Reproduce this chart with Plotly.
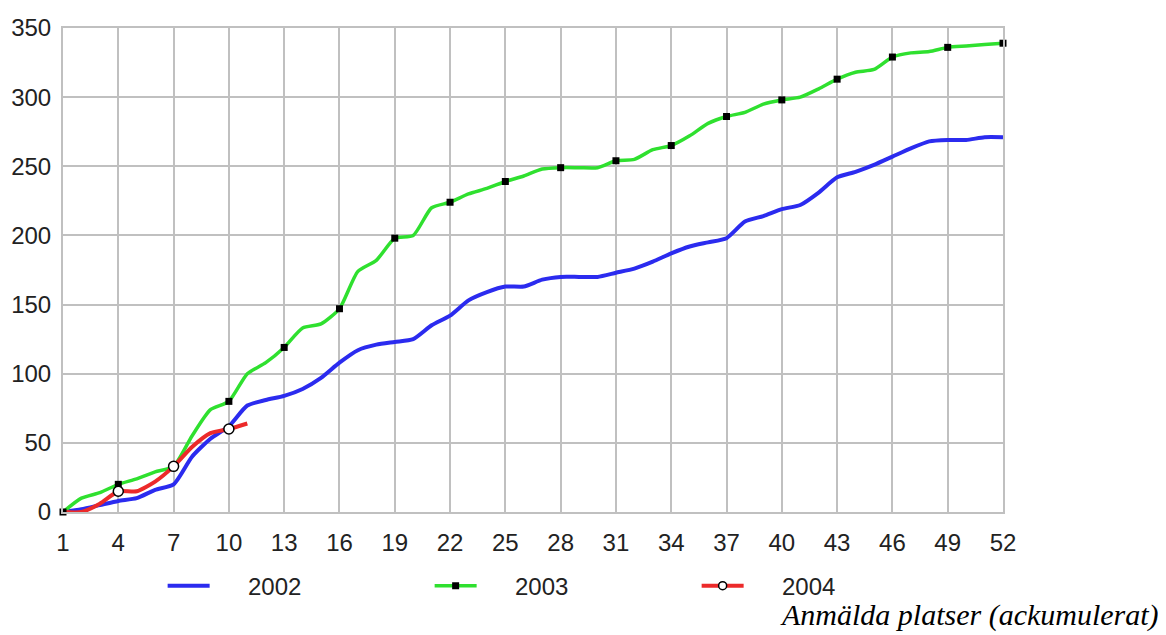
import plotly.graph_objects as go

weeks = list(range(1, 53))
tick_weeks = list(range(1, 53, 3))
y_ticks = [0, 50, 100, 150, 200, 250, 300, 350]

y2002 = [0, 2, 5, 8, 10, 16, 20, 40, 53, 62,
         77, 81, 84, 89, 97, 108, 117, 121, 123, 125,
         135, 142, 153, 159, 163, 163, 168, 170, 170, 170,
         173, 176, 181, 187, 192, 195, 198, 210, 214, 219,
         222, 231, 242, 246, 251, 257, 263, 268, 269, 269,
         271, 271]
y2003 = [0, 10, 14, 20, 24, 29, 33, 55, 74, 80,
         100, 108, 119, 133, 136, 147, 174, 182, 198, 200,
         220, 224, 230, 234, 239, 243, 248, 249, 249, 249,
         254, 255, 262, 265, 272, 281, 286, 289, 295, 298,
         300, 306, 313, 318, 320, 329, 332, 333, 336, 337,
         338, 339]
weeks2004 = list(range(1, 12))
y2004 = [0, 0, 6, 15, 15, 22, 33, 47, 57, 60, 64]
marker_weeks_2004 = [4, 7, 10]

names = ["2002", "2003", "2004"]
caption = "Anmälda platser (ackumulerat)"
blue = "#2b2bef"
green = "#2fe02f"
red = "#ec2a2a"

fig = go.Figure()
common = dict(mode="lines", line_shape="spline", showlegend=False, cliponaxis=False, hoverinfo="x+y")

fig.add_trace(go.Scatter(x=weeks, y=y2002, line=dict(color=blue, width=4, smoothing=0.6), **common))
fig.add_trace(go.Scatter(x=weeks, y=y2003, line=dict(color=green, width=3.5, smoothing=0.6), **common))
fig.add_trace(go.Scatter(x=weeks2004, y=y2004, line=dict(color=red, width=4, smoothing=0.6), **common))

m03x = tick_weeks
m03y = [y2003[w - 1] for w in m03x]
fig.add_trace(go.Scatter(x=m03x, y=m03y, mode="markers", showlegend=False, cliponaxis=False,
                         marker=dict(symbol="square", size=7, color="black")))
m04y = [y2004[w - 1] for w in marker_weeks_2004]
fig.add_trace(go.Scatter(x=marker_weeks_2004, y=m04y, mode="markers", showlegend=False, cliponaxis=False,
                         marker=dict(symbol="circle", size=10, color="white", line=dict(color="black", width=1.5))))

pad = "\u00a0" * 5
# legend entries
fig.add_trace(go.Scatter(x=[None], y=[None], mode="lines", name=pad + names[0],
                         line=dict(color=blue, width=4)))
fig.add_trace(go.Scatter(x=[None], y=[None], mode="lines+markers", name=pad + names[1],
                         line=dict(color=green, width=3.5),
                         marker=dict(symbol="square", size=7, color="black")))
fig.add_trace(go.Scatter(x=[None], y=[None], mode="lines+markers", name=pad + names[2],
                         line=dict(color=red, width=4),
                         marker=dict(symbol="circle", size=8, color="white", line=dict(color="black", width=1.5))))

grid = "#c0c0c0"
tickfont = dict(family="Liberation Sans, Arial", size=24, color="#222")
fig.update_layout(
    width=1158, height=627,
    margin=dict(l=55, r=163, t=20, b=123, autoexpand=False),
    paper_bgcolor="white", plot_bgcolor="white",
    font=tickfont,
    xaxis=dict(range=[1, 52], tickvals=tick_weeks, ticktext=[str(w) for w in tick_weeks],
               showgrid=True, gridcolor=grid, gridwidth=2, zeroline=False,
               showline=True, linecolor=grid, linewidth=2, mirror=True, automargin=False,
               ticks="outside", ticklen=8, tickcolor="rgba(0,0,0,0)", tickfont=tickfont),
    yaxis=dict(range=[0, 350], tickvals=y_ticks,
               showgrid=True, gridcolor=grid, gridwidth=2, zeroline=False,
               showline=True, linecolor=grid, linewidth=2, mirror=True, automargin=False,
               ticks="outside", ticklen=5, tickcolor="rgba(0,0,0,0)", tickfont=tickfont),
    legend=dict(orientation="h", x=0.106, xanchor="left", y=-0.153, yanchor="middle",
                itemwidth=42, entrywidth=210, entrywidthmode="pixels",
                font=tickfont, bgcolor="rgba(0,0,0,0)"),
    annotations=[dict(text="<i>" + caption + "</i>", xref="paper", yref="paper",
                      x=1.168, y=-0.213, xanchor="right", yanchor="middle", showarrow=False,
                      font=dict(family="Liberation Serif, Times New Roman", size=30, color="black"))],
)

fig.write_html("out.html")
